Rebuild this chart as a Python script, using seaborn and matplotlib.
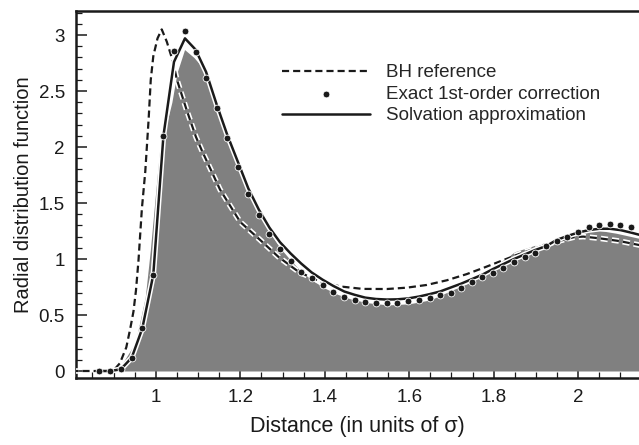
import matplotlib
matplotlib.use("Agg")
import matplotlib.pyplot as plt
import matplotlib.patheffects as pe
from matplotlib.ticker import MultipleLocator, FuncFormatter
import seaborn as sns
import pandas as pd
import numpy as np

# gray shaded curve (simulation)
gray_r = [0.80, 0.90, 0.915, 0.931, 0.951, 0.963, 0.975, 0.987, 0.998, 1.009, 1.025, 1.038,
          1.05, 1.068, 1.09, 1.113, 1.144, 1.169, 1.194, 1.219, 1.244, 1.269, 1.294, 1.319,
          1.344, 1.37, 1.40, 1.43, 1.46, 1.50, 1.55, 1.60, 1.65, 1.70, 1.75, 1.80, 1.85,
          1.90, 1.933, 1.97, 2.012, 2.05, 2.09, 2.144, 2.17]
gray_g = [0.0, 0.0, 0.03, 0.13, 0.25, 0.45, 0.66, 1.08, 1.53, 1.97, 2.20, 2.40,
          2.66, 2.87, 2.80, 2.70, 2.35, 2.09, 1.84, 1.60, 1.41, 1.24, 1.10, 0.99,
          0.89, 0.81, 0.74, 0.685, 0.645, 0.61, 0.59, 0.60, 0.635, 0.72, 0.80, 0.93, 1.065,
          1.125, 1.155, 1.21, 1.255, 1.255, 1.23, 1.185, 1.16]

# BH reference (dashed)
bh_r = [0.80, 0.875, 0.90, 0.915, 0.93, 0.939, 0.947, 0.953, 0.959, 0.967, 0.975, 0.983,
        0.988, 0.994, 1.004, 1.014, 1.026, 1.04, 1.05, 1.073, 1.095, 1.11, 1.152, 1.20,
        1.247, 1.29, 1.34, 1.39, 1.436, 1.49, 1.547, 1.594, 1.641, 1.689, 1.736, 1.775,
        1.854, 1.933, 1.99, 2.012, 2.05, 2.098, 2.144, 2.17]
bh_g = [0.0, 0.0, 0.005, 0.07, 0.21, 0.37, 0.53, 0.72, 0.99, 1.45, 1.78, 2.25,
        2.60, 2.81, 2.97, 3.05, 2.94, 2.77, 2.60, 2.33, 2.09, 1.96, 1.62, 1.33,
        1.17, 1.02, 0.88, 0.80, 0.755, 0.733, 0.732, 0.744, 0.768, 0.81, 0.865, 0.92,
        1.036, 1.14, 1.195, 1.20, 1.185, 1.16, 1.125, 1.11]

# r grid of the first-order points
pt_r = [0.866, 0.892, 0.917, 0.943, 0.968, 0.994, 1.018, 1.043, 1.069, 1.094, 1.119, 1.144,
        1.169, 1.194, 1.219, 1.244, 1.269, 1.294, 1.319, 1.344, 1.369, 1.395, 1.420, 1.446,
        1.471, 1.496, 1.521, 1.547, 1.572, 1.597, 1.622, 1.648, 1.673, 1.698, 1.723, 1.748,
        1.773, 1.798, 1.823, 1.848, 1.873, 1.898, 1.924, 1.949, 1.974, 1.999, 2.025, 2.050,
        2.075, 2.100, 2.126, 2.151]
# exact 1st-order correction (dots)
exact_g = [0.0, 0.0, 0.015, 0.12, 0.38, 0.86, 2.10, 2.86, 3.04, 2.85, 2.62, 2.35,
           2.08, 1.82, 1.58, 1.39, 1.22, 1.09, 0.985, 0.888, 0.83, 0.765, 0.708, 0.664,
           0.631, 0.617, 0.61, 0.608, 0.61, 0.622, 0.634, 0.655, 0.675, 0.70, 0.742, 0.795,
           0.835, 0.877, 0.92, 0.97, 1.015, 1.055, 1.115, 1.16, 1.20, 1.24, 1.285, 1.306,
           1.31, 1.30, 1.29, 1.28]
# solvation approximation (solid)
solv_g = [0.0, 0.0, 0.015, 0.12, 0.38, 0.86, 2.10, 2.76, 2.97, 2.87, 2.67, 2.38,
          2.11, 1.87, 1.63, 1.44, 1.28, 1.15, 1.05, 0.96, 0.88, 0.815, 0.76, 0.71,
          0.68, 0.655, 0.643, 0.638, 0.64, 0.648, 0.664, 0.686, 0.71, 0.745, 0.78, 0.82,
          0.86, 0.91, 0.955, 1.0, 1.04, 1.08, 1.115, 1.17, 1.205, 1.235, 1.258, 1.27,
          1.27, 1.258, 1.235, 1.21]

x_ticks = [1.0, 1.2, 1.4, 1.6, 1.8, 2.0]
y_ticks = [0, 0.5, 1, 1.5, 2, 2.5, 3]

sns.set_style("ticks")
plt.rcParams['font.family'] = ['Liberation Sans', 'DejaVu Sans']

ink = "#1a1a1a"
halo = [pe.withStroke(linewidth=4.0, foreground="white")]

fig = plt.figure(figsize=(6.39, 4.45), dpi=100)
ax = fig.add_axes([76/639, 1 - 378/445, 1 - 76/639, (378 - 10.7)/445])

ax.fill_between(gray_r, gray_g, 0, color="#808080", lw=0, zorder=1)

bh_df = pd.DataFrame({"r": bh_r, "g": bh_g})
pt_df = pd.DataFrame({"r": pt_r, "exact": exact_g, "solv": solv_g})

sns.lineplot(data=bh_df, x="r", y="g", ax=ax, color=ink, lw=1.6, zorder=3,
             label="BH reference")
ax.lines[-1].set_dashes([3.2, 1.8])
ax.lines[-1].set_path_effects(halo)

sns.scatterplot(data=pt_df, x="r", y="exact", ax=ax, color=ink, s=24,
                edgecolor="white", linewidth=0.6, zorder=5,
                label="Exact 1st-order correction")

sns.lineplot(data=pt_df, x="r", y="solv", ax=ax, color=ink, lw=1.8, zorder=4,
             label="Solvation approximation")
ax.lines[-1].set_path_effects(halo)

ax.set_xlim(0.811, 2.144)
ax.set_ylim(-0.0625, 3.217)
ax.set_xticks(x_ticks)
ax.set_yticks(y_ticks)
ax.xaxis.set_minor_locator(MultipleLocator(0.05))
ax.yaxis.set_minor_locator(MultipleLocator(0.1))
fmt = FuncFormatter(lambda v, p: ("%g" % round(v, 2)))
ax.xaxis.set_major_formatter(fmt)
ax.yaxis.set_major_formatter(fmt)

ax.tick_params(which="major", direction="in", length=8, width=1.1, pad=8,
               labelsize=13.5, colors=ink)
ax.tick_params(which="minor", direction="in", length=4, width=0.9, colors=ink)
ax.tick_params(top=False, right=False, which="both")

for side in ["left", "bottom", "top"]:
    ax.spines[side].set_linewidth(1.8)
    ax.spines[side].set_color(ink)
ax.spines["right"].set_visible(False)

ax.set_xlabel("Distance (in units of σ)", fontsize=15.5, color=ink, labelpad=7)
ax.set_ylabel("Radial distribution function", fontsize=14.5, color=ink, labelpad=4)

ax.legend(loc="upper left", bbox_to_anchor=(282/639, 1 - 64/445),
          bbox_transform=fig.transFigure, frameon=False, fontsize=13.5,
          handlelength=4.7, handletextpad=0.85, labelspacing=0.24, borderpad=0,
          borderaxespad=0)

fig.savefig("out.png", dpi=100)
